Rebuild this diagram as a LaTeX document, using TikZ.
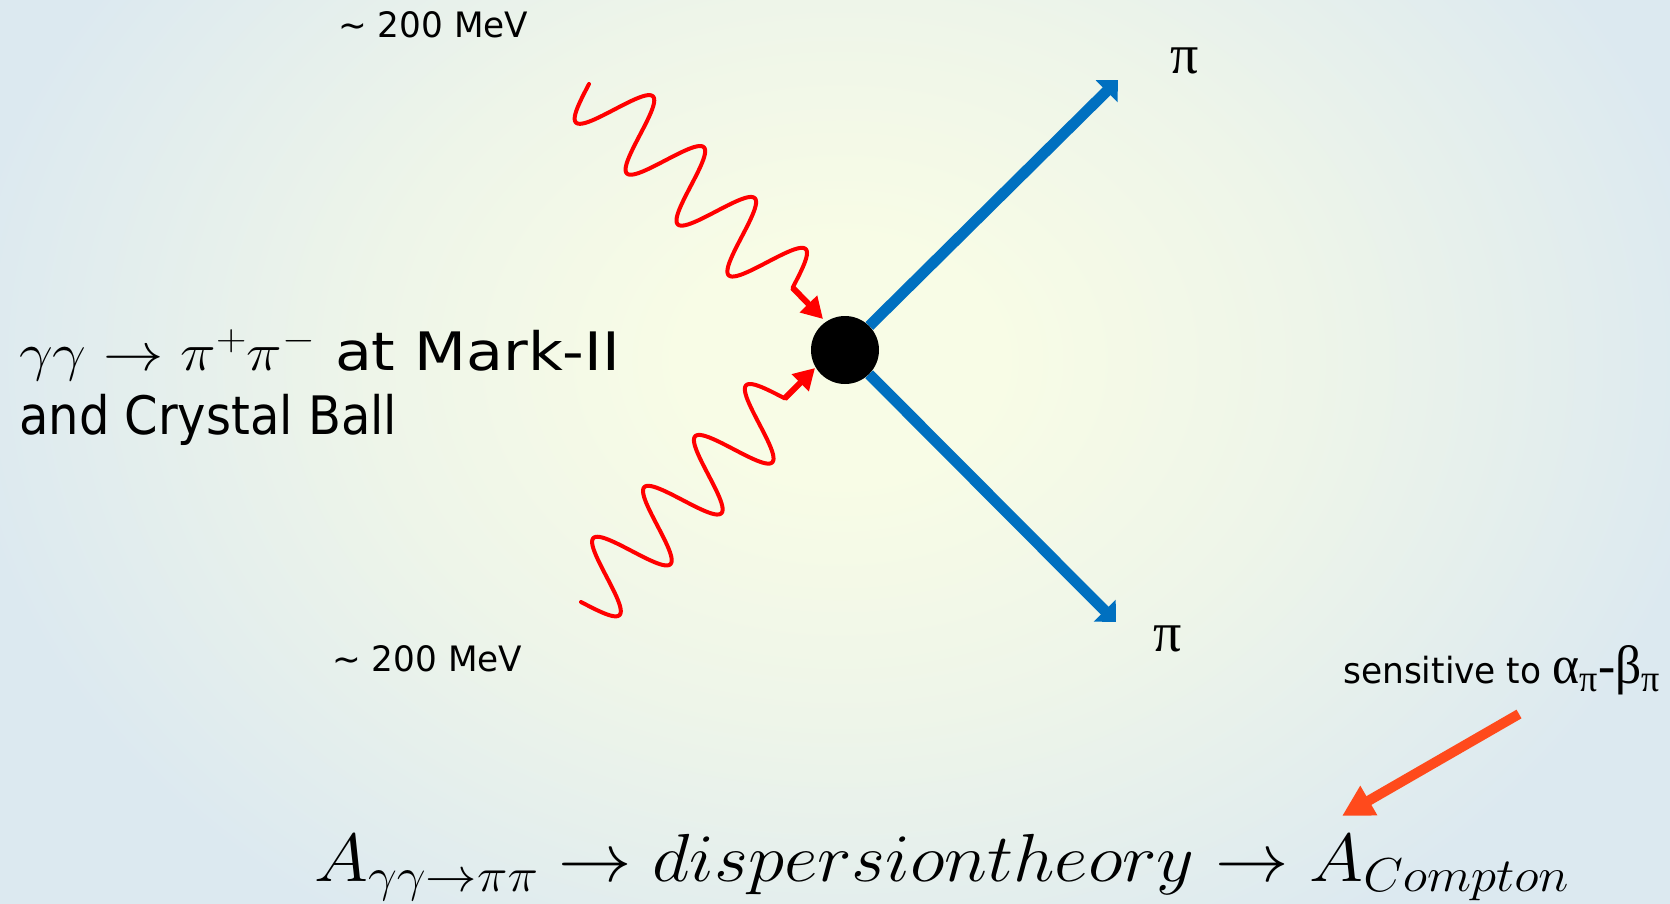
\RequirePackage{fix-cm}
\documentclass[tikz,border=0pt]{standalone}
\usepackage{fontspec}
\setmainfont{DejaVu Sans}
\newfontfamily\grk{Liberation Serif}
\usepackage{graphicx}
\usetikzlibrary{arrows.meta}
\definecolor{piblue}{HTML}{0070C0}
\definecolor{orng}{HTML}{FF4A1C}
\definecolor{bgc}{HTML}{F8FCE6}
\definecolor{bgm}{HTML}{EEF5E9}
\definecolor{bgo}{HTML}{DCE9F0}
\pgfdeclareradialshading{bgshade}{\pgfpoint{0bp}{0bp}}{color(0bp)=(bgc); color(3bp)=(bgc); color(9bp)=(bgm); color(17bp)=(bgo); color(50bp)=(bgo)}
\newcommand\fitw[2]{\resizebox{#1}{\height}{#2}}
\tikzset{
  photon/.style={draw=red, line width=4pt, line join=round, line cap=round},
  redarr/.style={draw=red, line width=6pt, -{Triangle[width=23pt,length=21pt]}},
  pion/.style={draw=piblue, line width=11pt, -{Triangle[width=30pt,length=16pt]}},
  orarr/.style={draw=orng, line width=10pt, -{Triangle[width=32pt,length=31pt]}},
  txt/.style={anchor=base west, inner sep=0pt},
  pilab/.style={anchor=base, inner sep=0pt, font=\grk\fontsize{56}{60}\selectfont},
}
\begin{document}
\begin{tikzpicture}[x=1pt,y=-1pt]
\useasboundingbox (0,0) rectangle (1670,903);
\begin{scope}
\clip (0,0) rectangle (1670,903);
\shade[shading=bgshade] (-460,-640) rectangle (2140,1360);
\end{scope}

% vertex
\node[circle, fill=black, minimum size=68pt, inner sep=0pt] (v) at (845,350) {};
\coordinate (pa) at (1118,80);
\coordinate (pb) at (1116,622);
\draw[pion] (v) -- (pa);
\draw[pion] (v) -- (pb);

% photons
\draw[photon] plot[domain=0:288, samples=200, smooth] ({589+0.7071*(\x-36.5*sin(\x*5))},{84+0.7071*(\x+36.5*sin(\x*5))});
\coordinate (g1e) at (792.6,287.6);
\coordinate (g1t) at (823,319);
\draw[redarr] (g1e) -- (g1t);

\draw[photon] plot[domain=0:288, samples=200, smooth] ({581+0.7071*(\x+36.5*sin(\x*5))},{602+0.7071*(-\x+36.5*sin(\x*5))});
\coordinate (g2e) at (784.6,398.4);
\coordinate (g2t) at (815,368);
\draw[redarr] (g2e) -- (g2t);

% labels
\node[txt, font=\fontsize{35}{40}\selectfont] (e1) at (338,37) {\fitw{190pt}{\textasciitilde\ 200 MeV}};
\node[txt, font=\fontsize{35}{40}\selectfont] (e2) at (332,671) {\fitw{190pt}{\textasciitilde\ 200 MeV}};
\node[pilab] (pi1) at (1185,73) {π};
\node[pilab] (pi2) at (1168,651) {π};

\node[txt, font=\fontsize{53}{60}\selectfont] (t1) at (19,370) {\fitw{601pt}{$\gamma\gamma \rightarrow \pi^{+}\pi^{-}$ at Mark-II}};
\node[txt, font=\fontsize{53}{60}\selectfont] (t2) at (19,434) {\fitw{378pt}{and Crystal Ball}};

\node[txt, font=\fontsize{36}{42}\selectfont] (s) at (1343,683) {\fitw{317pt}{sensitive to {\grk\fontsize{54}{60}\selectfont α\textsubscript{π}-β\textsubscript{π}}}};

\coordinate (oa) at (1519,714);
\coordinate (ob) at (1342,816);
\draw[orarr] (oa) -- (ob);

\node[txt] (eq) at (314,881) {\fitw{1255pt}{\fontsize{68}{80}\selectfont $A_{\gamma\gamma\rightarrow\pi\pi} \rightarrow dispersiontheory \rightarrow A_{Compton}$}};
\end{tikzpicture}
\end{document}
